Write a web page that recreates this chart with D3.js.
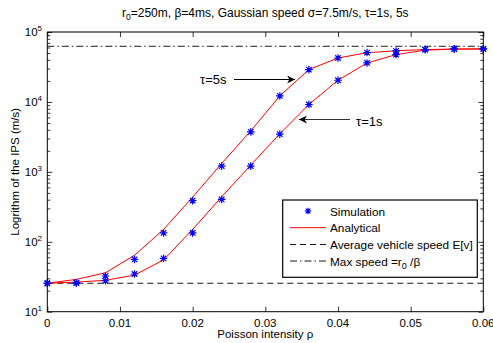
<!DOCTYPE html>
<html><head><meta charset="utf-8">
<script src="https://cdn.jsdelivr.net/npm/d3@7"></script>
<style>body{margin:0;background:#fff}svg{display:block;font-family:"Liberation Sans",Arial,sans-serif}</style>
</head><body><svg id="c" width="493" height="343"></svg>
<script>
const rho = [0,0.004,0.008,0.012,0.016,0.020,0.024,0.028,0.032,0.036,0.040,0.044,0.048,0.052,0.056,0.060];
const sim5 = [25.5,26,32.4,56,134,388,1206,3727,12180,29000,42500,50800,53600,56100,57200,57200];
const sim1 = [25.5,25.7,27.7,34.6,58,134,403,1206,3460,9180,20400,36100,47500,56100,57200,57200];
const ana5 = [25.5,29,36,64,150,435,1320,3850,12200,29000,42500,50500,54000,56000,57000,57300];
const ana1 = [25.5,26.5,28.1,33.4,55,150,440,1250,3500,9200,20400,36000,47500,55000,57000,57300];
const avgSpeed = 25.5;
const maxSpeed = 62500;
const xTicks = [0,0.01,0.02,0.03,0.04,0.05,0.06];
const xTickLabels = ["0","0.01","0.02","0.03","0.04","0.05","0.06"];
const yTicks = [10,100,1000,10000,100000];
const yTickExp = ["1","2","3","4","5"];
const legendLabels = ["Simulation","Analytical","Average vehicle speed E[v]","Max speed =r0 /β"];

const svg = d3.select("#c");
const L=47.3,R=483.3,T=32,B=311.7;
const x = d3.scaleLinear().domain([0,0.06]).range([L,R]);
const y = d3.scaleLog().domain([10,1e5]).range([B,T]);

const minor=[];
for(let d=10; d<1e5; d*=10) for(let k=2;k<=9;k++) minor.push(d*k);

const g = svg.append("g");
g.append("g").attr("transform",`translate(0,${B})`).call(d3.axisBottom(x).tickValues(xTicks).tickSize(-5).tickFormat("")).call(s=>s.select(".domain").remove());
g.append("g").attr("transform",`translate(0,${T})`).call(d3.axisTop(x).tickValues(xTicks).tickSize(-5).tickFormat("")).call(s=>s.select(".domain").remove());
g.append("g").attr("transform",`translate(${L},0)`).call(d3.axisLeft(y).tickValues(yTicks).tickSize(-5).tickFormat("")).call(s=>s.select(".domain").remove());
g.append("g").attr("transform",`translate(${R},0)`).call(d3.axisRight(y).tickValues(yTicks).tickSize(-5).tickFormat("")).call(s=>s.select(".domain").remove());
g.append("g").attr("transform",`translate(${L},0)`).call(d3.axisLeft(y).tickValues(minor).tickSize(-3).tickFormat("")).call(s=>s.select(".domain").remove());
g.append("g").attr("transform",`translate(${R},0)`).call(d3.axisRight(y).tickValues(minor).tickSize(-3).tickFormat("")).call(s=>s.select(".domain").remove());
g.selectAll(".tick line").attr("stroke","#000").attr("stroke-width",0.8);

svg.append("line").attr("x1",L).attr("x2",R).attr("y1",y(avgSpeed)).attr("y2",y(avgSpeed))
  .attr("stroke","#000").attr("stroke-width",0.9).attr("stroke-dasharray","6,4");
svg.append("line").attr("x1",L).attr("x2",R).attr("y1",y(maxSpeed)).attr("y2",y(maxSpeed))
  .attr("stroke","#000").attr("stroke-width",0.9).attr("stroke-dasharray","7,3,1.5,3");

const line = d3.line().x((d,i)=>x(rho[i])).y(d=>y(d));
[ana5,ana1].forEach(a=>svg.append("path").attr("d",line(a)).attr("fill","none").attr("stroke","#ff0000").attr("stroke-width",1));

function star(sel,cx,cy,r){
  const p=`M${cx-r},${cy}L${cx+r},${cy}M${cx},${cy-r}L${cx},${cy+r}`+
    `M${cx-r*0.72},${cy-r*0.72}L${cx+r*0.72},${cy+r*0.72}M${cx-r*0.72},${cy+r*0.72}L${cx+r*0.72},${cy-r*0.72}`;
  sel.append("path").attr("d",p).attr("stroke","#0000ff").attr("stroke-width",1.2).attr("fill","none");
}
[sim5,sim1].forEach(s=>s.forEach((v,i)=>star(svg,x(rho[i]),y(v),3.8)));

svg.append("rect").attr("x",L).attr("y",T).attr("width",R-L).attr("height",B-T).attr("fill","none").attr("stroke","#000").attr("stroke-width",1);

xTicks.forEach((t,i)=>svg.append("text").attr("x",x(t)).attr("y",B+15).attr("text-anchor","middle").attr("font-size",11.5).text(xTickLabels[i]));
yTicks.forEach((t,i)=>{
  const tx=svg.append("text").attr("x",42).attr("y",y(t)+4).attr("text-anchor","end").attr("font-size",11.5);
  tx.append("tspan").text("10");
  tx.append("tspan").attr("font-size",8).attr("dy",-5).text(yTickExp[i]);
});

svg.append("text").attr("x",(L+R)/2).attr("y",338).attr("text-anchor","middle").attr("font-size",11.5).text("Poisson intensity ρ");
svg.append("text").attr("transform",`translate(19,${(T+B)/2}) rotate(-90)`).attr("text-anchor","middle").attr("font-size",11.5).text("Logrithm of the IPS (m/s)");

const tt=svg.append("text").attr("x",(L+R)/2).attr("y",17).attr("text-anchor","middle").attr("font-size",12);
tt.append("tspan").text("r");
tt.append("tspan").attr("font-size",8.5).attr("dy",3).text("0");
tt.append("tspan").attr("dy",-3).text("=250m, β=4ms, Gaussian speed σ=7.5m/s, τ=1s, 5s");

const defs=svg.append("defs");
defs.append("marker").attr("id","ah").attr("viewBox","0 0 10 10").attr("refX",10).attr("refY",5)
  .attr("markerWidth",11).attr("markerHeight",8).attr("markerUnits","userSpaceOnUse").attr("orient","auto")
  .append("path").attr("d","M0,0L10,5L0,10L3,5Z").attr("fill","#000");
svg.append("line").attr("x1",234).attr("y1",79.5).attr("x2",295).attr("y2",79.5).attr("stroke","#000").attr("stroke-width",1).attr("marker-end","url(#ah)");
svg.append("text").attr("x",200).attr("y",83.5).attr("font-size",13).text("τ=5s");
svg.append("line").attr("x1",350).attr("y1",119.5).attr("x2",299).attr("y2",119.5).attr("stroke","#333").attr("stroke-width",1).attr("marker-end","url(#ah)");
svg.append("text").attr("x",356).attr("y",125.5).attr("font-size",13).text("τ=1s");

const lg=svg.append("g");
lg.append("rect").attr("x",282.7).attr("y",200).attr("width",194.6).attr("height",77.3).attr("fill","#fff").attr("stroke","#000").attr("stroke-width",1.2);
const rows=[211,227.7,244.5,261];
star(lg,308,rows[0],3.3);
lg.append("line").attr("x1",290).attr("x2",326).attr("y1",rows[1]).attr("y2",rows[1]).attr("stroke","#ff0000").attr("stroke-width",1);
lg.append("line").attr("x1",290).attr("x2",326).attr("y1",rows[2]).attr("y2",rows[2]).attr("stroke","#000").attr("stroke-width",0.9).attr("stroke-dasharray","6,4");
lg.append("line").attr("x1",290).attr("x2",326).attr("y1",rows[3]).attr("y2",rows[3]).attr("stroke","#000").attr("stroke-width",0.9).attr("stroke-dasharray","7,3,1.5,3");
legendLabels.slice(0,3).forEach((t,i)=>lg.append("text").attr("x",330).attr("y",rows[i]+4.5).attr("font-size",11.8).text(t));
const ml=lg.append("text").attr("x",330).attr("y",rows[3]+4.5).attr("font-size",11.8);
ml.append("tspan").text("Max speed =r");
ml.append("tspan").attr("font-size",9).attr("dy",3.5).text("0");
ml.append("tspan").attr("dy",-3.5).text(" /β");
</script></body></html>
